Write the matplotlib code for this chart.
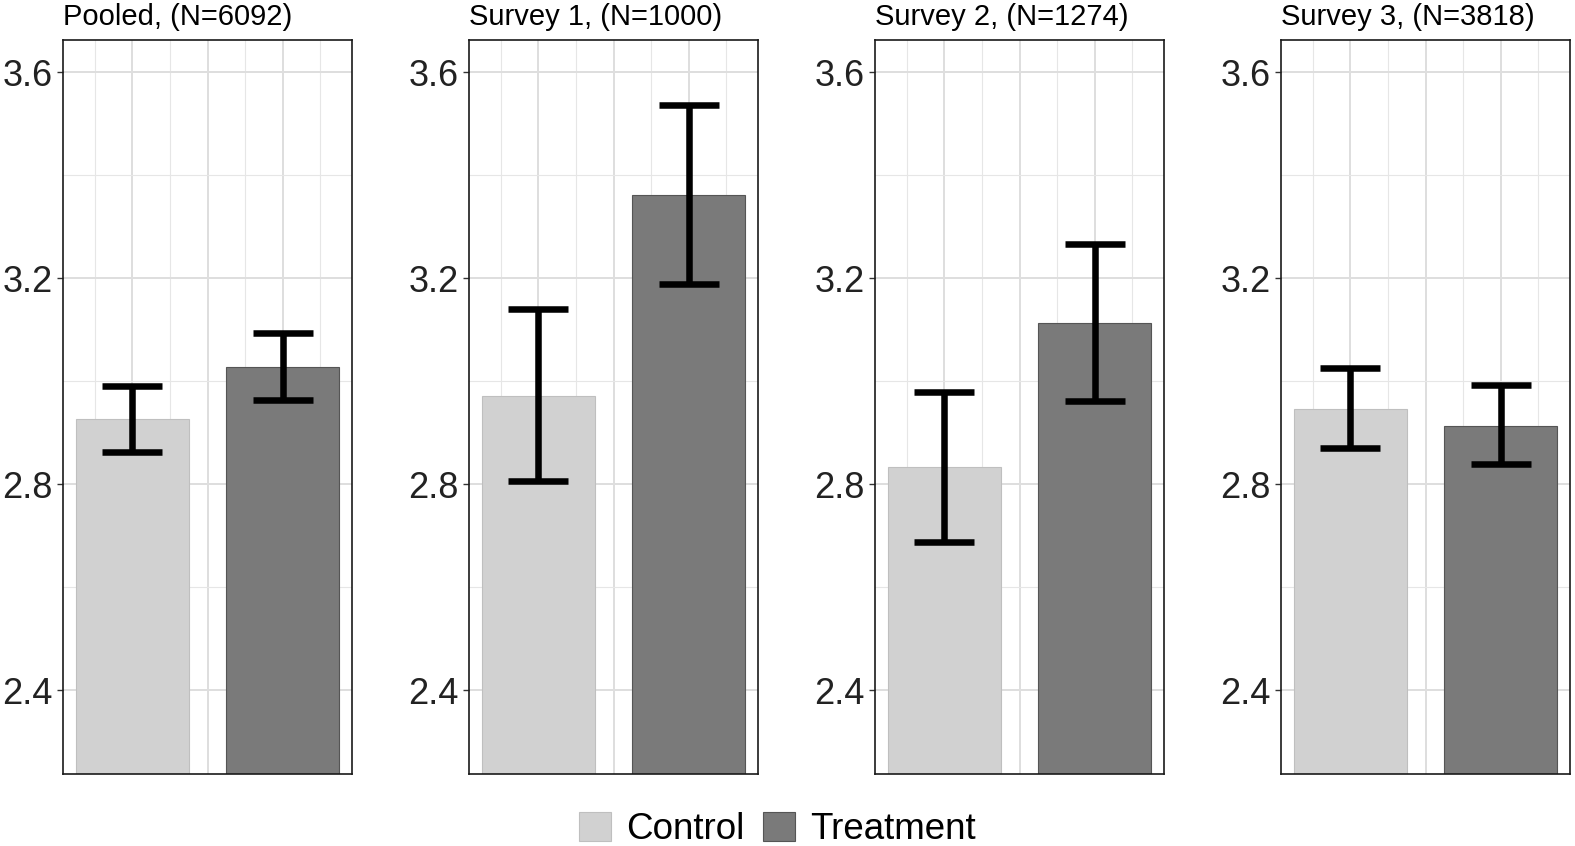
import matplotlib
matplotlib.use("Agg")
import matplotlib.pyplot as plt
from matplotlib.ticker import FixedLocator

plt.rcParams["font.family"] = ["Liberation Sans", "DejaVu Sans"]

titles = ["Pooled, (N=6092)", "Survey 1, (N=1000)", "Survey 2, (N=1274)", "Survey 3, (N=3818)"]
groups = ["Control", "Treatment"]

control_mean = [2.926, 2.971, 2.833, 2.947]
control_lo = [2.862, 2.806, 2.687, 2.870]
control_hi = [2.991, 3.141, 2.980, 3.026]

treat_mean = [3.027, 3.361, 3.114, 2.914]
treat_lo = [2.964, 3.188, 2.961, 2.839]
treat_hi = [3.093, 3.536, 3.267, 2.992]

y_ticks = [2.4, 2.8, 3.2, 3.6]
y_minor = [2.6, 3.0, 3.4]

fills = ["#d1d1d1", "#7a7a7a"]
edges = ["#bfbfbf", "#555555"]

fig = plt.figure(figsize=(15.75, 8.46), dpi=100)

W, H = 1575, 846
ax_w = 289 / W
ax_h = (774 - 40.3) / H
ax_b = (H - 774) / H

handles = []
for i, title in enumerate(titles):
    left = (63 + 406 * i) / W
    ax = fig.add_axes([left, ax_b, ax_w, ax_h])

    means = [control_mean[i], treat_mean[i]]
    los = [control_lo[i], treat_lo[i]]
    his = [control_hi[i], treat_hi[i]]
    xs = [1, 2]

    for x, m, g, fc, ec in zip(xs, means, groups, fills, edges):
        b = ax.bar(x, m, width=0.75, color=fc, edgecolor=ec, linewidth=0.8, label=g, zorder=2)
        if i == 0:
            handles.append(b)

    # error bars: stem plus caps of width 0.4
    ax.vlines(xs, los, his, color="black", linewidth=4.7, zorder=3)
    ax.hlines(los, [x - 0.2 for x in xs], [x + 0.2 for x in xs], color="black", linewidth=4.7, zorder=3)
    ax.hlines(his, [x - 0.2 for x in xs], [x + 0.2 for x in xs], color="black", linewidth=4.7, zorder=3)

    ax.set_xlim(0.5375, 2.4625)
    ax.set_ylim(2.2375, 3.662)

    ax.set_yticks(y_ticks)
    ax.set_yticklabels([f"{t:.1f}" for t in y_ticks])
    ax.yaxis.set_minor_locator(FixedLocator(y_minor))
    ax.set_xticks([1, 1.5, 2])
    ax.xaxis.set_minor_locator(FixedLocator([0.75, 1.25, 1.75, 2.25]))
    ax.set_xticklabels([])

    ax.grid(which="major", color="#dedede", linewidth=1.4)
    ax.grid(which="minor", color="#e6e6e6", linewidth=0.8)
    ax.set_axisbelow(True)

    ax.tick_params(axis="y", which="major", labelsize=26, length=4.3, width=1.0,
                   color="#333333", labelcolor="#222222", pad=3)
    ax.tick_params(axis="y", which="minor", length=0)
    ax.tick_params(axis="x", which="both", length=0)

    for s in ax.spines.values():
        s.set_color("#1a1a1a")
        s.set_linewidth(1.2)

    ax.set_title(title, loc="left", fontsize=21, pad=11, color="black")

fig.legend(handles=handles, labels=groups, loc="center", bbox_to_anchor=(0.4937, 0.0195),
           ncol=2, frameon=False, fontsize=26.5, handlelength=0.87, handleheight=0.82,
           handletextpad=0.42, columnspacing=0.49, borderpad=0, borderaxespad=0)

fig.savefig("out.png", dpi=100)
